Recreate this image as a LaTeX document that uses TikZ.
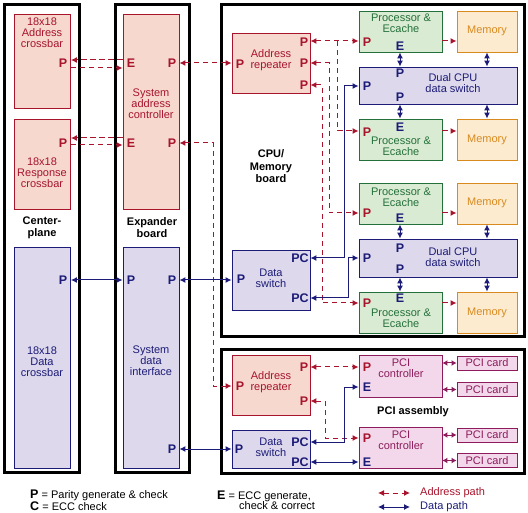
\documentclass[tikz,border=0pt]{standalone}
\usepackage{fontspec}
\setmainfont{Liberation Sans}
\usetikzlibrary{arrows.meta}
\definecolor{addrred}{HTML}{A8142C}
\definecolor{addrfill}{HTML}{F6D8CF}
\definecolor{datablue}{HTML}{1C1C78}
\definecolor{datafill}{HTML}{DDD8EB}
\definecolor{procgreen}{HTML}{24703A}
\definecolor{procfill}{HTML}{D9EBD2}
\definecolor{memorange}{HTML}{D98A1E}
\definecolor{memfill}{HTML}{FCEBCF}
\definecolor{pcimag}{HTML}{8C1C5C}
\definecolor{pcifill}{HTML}{F2D8EA}
\tikzset{
  board/.style={draw=black, line width=3pt, inner sep=0pt},
  addrbox/.style={draw=addrred, fill=addrfill, line width=0.9pt, inner sep=0pt},
  databox/.style={draw=datablue, fill=datafill, line width=0.9pt, inner sep=0pt},
  procbox/.style={draw=procgreen, fill=procfill, line width=0.9pt, inner sep=0pt, minimum width=83pt, minimum height=41pt},
  membox/.style={draw=memorange, fill=memfill, line width=0.9pt, inner sep=0pt, minimum width=60pt, minimum height=41pt},
  pcibox/.style={draw=pcimag, fill=pcifill, line width=0.9pt, inner sep=0pt},
  boxtext/.style={align=center, inner sep=0pt, font=\fontsize{11}{11}\selectfont},
  boardtext/.style={align=center, inner sep=0pt, font=\bfseries\fontsize{11}{12}\selectfont},
  port/.style={inner sep=0pt, font=\bfseries\fontsize{12.5}{12.5}\selectfont},
  addrline/.style={addrred, line width=1pt, dash pattern=on 5.5pt off 3.5pt, >={Latex[length=6pt,width=6pt]}},
  dataline/.style={datablue, line width=1pt, >={Latex[length=6pt,width=6pt]}},
  cardline/.style={pcimag, line width=1pt, >={Latex[length=5pt,width=6pt]}},
}
\begin{document}
\begin{tikzpicture}[x=1pt, y=-1pt]
\useasboundingbox (0,0) rectangle (528,513);

% boards
\node[board, minimum width=75pt, minimum height=467.5pt] (CP) at (42,238.75) {};
\node[board, minimum width=74pt, minimum height=467.5pt] (EX) at (152,238.75) {};
\node[board, minimum width=303pt, minimum height=332pt] (CPU) at (372.5,171) {};
\node[board, minimum width=303pt, minimum height=123pt] (PCI) at (372.5,411.5) {};

% centerplane and expander
\node[addrbox, minimum width=56.5pt, minimum height=94pt] (AXB) at (42.25,61) {};
\node[addrbox, minimum width=56.5pt, minimum height=90pt] (RXB) at (42.25,164) {};
\node[databox, minimum width=56.5pt, minimum height=221pt] (DXB) at (42.25,357.5) {};
\node[addrbox, minimum width=56pt, minimum height=195pt] (SAC) at (151,111.5) {};
\node[databox, minimum width=56pt, minimum height=221pt] (SDI) at (151,357.5) {};

% CPU/Memory board
\node[addrbox, minimum width=78pt, minimum height=60pt] (AR1) at (271,63) {};
\node[databox, minimum width=78pt, minimum height=60pt] (DS1) at (271,280) {};
\node[procbox] (PE1) at (400.5,31.5) {};
\node[membox] (M1) at (487,31.5) {};
\node[databox, minimum width=158pt, minimum height=37pt] (DC1) at (438,85.5) {};
\node[procbox] (PE2) at (400.5,139.5) {};
\node[membox] (M2) at (487,139.5) {};
\node[procbox] (PE3) at (400.5,203.5) {};
\node[membox] (M3) at (487,203.5) {};
\node[databox, minimum width=158pt, minimum height=38pt] (DC2) at (438,258) {};
\node[procbox] (PE4) at (400.5,312.5) {};
\node[membox] (M4) at (487,312.5) {};

% PCI assembly
\node[addrbox, minimum width=78pt, minimum height=60pt] (AR2) at (271,385) {};
\node[databox, minimum width=78pt, minimum height=38pt] (DS2) at (271,449) {};
\node[pcibox, minimum width=83pt, minimum height=42pt] (PC1) at (400.5,376) {};
\node[pcibox, minimum width=83pt, minimum height=41pt] (PC2) at (400.5,447.5) {};
\node[pcibox, minimum width=60pt, minimum height=14pt, boxtext, text=pcimag] (CD1) at (487,363) {PCI card};
\node[pcibox, minimum width=60pt, minimum height=14pt, boxtext, text=pcimag] (CD2) at (487,389.5) {PCI card};
\node[pcibox, minimum width=60pt, minimum height=14pt, boxtext, text=pcimag] (CD3) at (487,435) {PCI card};
\node[pcibox, minimum width=60pt, minimum height=14pt, boxtext, text=pcimag] (CD4) at (487,460.5) {PCI card};

% box texts
\node[boxtext, addrred] (tAXB) at (42,33) {18x18\\Address\\crossbar};
\node[boxtext, addrred] (tRXB) at (42,173) {18x18\\Response\\crossbar};
\node[boxtext, datablue] (tDXB) at (42,361.5) {18x18\\Data\\crossbar};
\node[boxtext, addrred] (tSAC) at (151,104) {System\\address\\controller};
\node[boxtext, datablue] (tSDI) at (151,361) {System\\data\\interface};
\node[boardtext] (tCP) at (42,227.5) {Center-\\plane};
\node[boardtext] (tEX) at (152,227.5) {Expander\\board};
\node[boardtext, font=\bfseries\fontsize{11}{12.5}\selectfont] (tCPU) at (271,166.5) {CPU/\\Memory\\board};
\node[boardtext] (tPCI) at (413,412) {PCI assembly};
\node[boxtext, addrred] (tAR1) at (271,60.5) {Address\\repeater};
\node[boxtext, datablue] (tDS1) at (271,278.5) {Data\\switch};
\node[boxtext, addrred] (tAR2) at (271,382.5) {Address\\repeater};
\node[boxtext, datablue] (tDS2) at (271,447.5) {Data\\switch};
\node[boxtext, procgreen] (tPE1) at (401,23.5) {Processor \&\\Ecache};
\node[boxtext, procgreen] (tPE2) at (401,146.5) {Processor \&\\Ecache};
\node[boxtext, procgreen] (tPE3) at (401,197) {Processor \&\\Ecache};
\node[boxtext, procgreen] (tPE4) at (401,318.5) {Processor \&\\Ecache};
\node[boxtext, memorange] (tM1) at (487,31) {Memory};
\node[boxtext, memorange] (tM2) at (487,140) {Memory};
\node[boxtext, memorange] (tM3) at (487,203) {Memory};
\node[boxtext, memorange] (tM4) at (487,313) {Memory};
\node[boxtext, datablue] (tDC1) at (453,83.5) {Dual CPU\\data switch};
\node[boxtext, datablue] (tDC2) at (453,257.5) {Dual CPU\\data switch};
\node[boxtext, pcimag] (tPC1) at (401,368.5) {PCI\\controller};
\node[boxtext, pcimag] (tPC2) at (401,440.5) {PCI\\controller};

% ports
\node[port, addrred] (AXBp) at (63,63) {P};
\node[port, addrred] (RXBp) at (63,143) {P};
\node[port, addrred] (SACe1) at (131,63) {E};
\node[port, addrred] (SACe2) at (131,143) {E};
\node[port, addrred] (SACp1) at (172,63) {P};
\node[port, addrred] (SACp2) at (172,143) {P};
\node[port, datablue] (DXBp) at (63,280) {P};
\node[port, datablue] (SDIp0) at (131,280) {P};
\node[port, datablue] (SDIp1) at (172,280) {P};
\node[port, datablue] (SDIp2) at (172,449) {P};
\node[port, addrred] (AR1p0) at (240,64) {P};
\node[port, addrred] (AR1p1) at (304,42) {P};
\node[port, addrred] (AR1p2) at (304,63) {P};
\node[port, addrred] (AR1p3) at (304,85) {P};
\node[port, datablue] (DS1p0) at (241,279) {P};
\node[port, datablue] (DS1c1) at (300,258) {PC};
\node[port, datablue] (DS1c2) at (300,298) {PC};
\node[port, addrred] (PE1p) at (367,42) {P};
\node[port, datablue] (PE1e) at (400,46) {E};
\node[port, datablue] (PE2e) at (400,127) {E};
\node[port, addrred] (PE2p) at (367,132) {P};
\node[port, addrred] (PE3p) at (367,213) {P};
\node[port, datablue] (PE3e) at (400,218) {E};
\node[port, datablue] (PE4e) at (400,298) {E};
\node[port, addrred] (PE4p) at (367,303) {P};
\node[port, datablue] (DC1t) at (400,73) {P};
\node[port, datablue] (DC1b) at (400,97) {P};
\node[port, datablue] (DC1l) at (367,86) {P};
\node[port, datablue] (DC2t) at (400,248) {P};
\node[port, datablue] (DC2b) at (400,269) {P};
\node[port, datablue] (DC2l) at (367,258) {P};
\node[port, addrred] (AR2p0) at (240,386) {P};
\node[port, addrred] (AR2p1) at (304,367) {P};
\node[port, addrred] (AR2p2) at (304,401) {P};
\node[port, datablue] (DS2p0) at (239,449) {P};
\node[port, datablue] (DS2c1) at (300,442) {PC};
\node[port, datablue] (DS2c2) at (300,462) {PC};
\node[port, addrred] (PC1p) at (367,367) {P};
\node[port, datablue] (PC1e) at (367,387) {E};
\node[port, addrred] (PC2p) at (367,438) {P};
\node[port, datablue] (PC2e) at (367,462) {E};

% address paths
\draw[addrline, ->] (SAC.west |- 0,60) -- (AXB.east |- 0,60);
\draw[addrline, ->] (AXB.east |- 0,68) -- (SAC.west |- 0,68);
\draw[addrline, ->] (SAC.west |- 0,138) -- (RXB.east |- 0,138);
\draw[addrline, ->] (RXB.east |- 0,145) -- (SAC.west |- 0,145);
\draw[addrline, <->] (SAC.east |- SACp1) -- (AR1.west |- SACp1);
\draw[addrline, <->] (SAC.east |- SACp2) -- (213,143) -- (213,386) -- (AR2.west |- AR2p0);
\draw[addrline, <->] (AR1.east |- 0,41) -- (PE1.west |- 0,41);
\draw[addrline, ->] (337,41) -- (337,131) -- (PE2.west |- 0,131);
\draw[addrline, <->] (AR1.east |- AR1p2) -- (329,63) -- (329,213) -- (PE3.west |- PE3p);
\draw[addrline, <->] (AR1.east |- AR1p3) -- (322,85) -- (322,303) -- (PE4.west |- PE4p);
\draw[addrline, <->] (AR2.east |- AR2p1) -- (PC1.west |- AR2p1);
\draw[addrline, <->] (AR2.east |- AR2p2) -- (325,401) -- (325,438) -- (PC2.west |- PC2p);
\draw[addrline, ->] (PE1.east |- 0,41) -- (M1.west |- 0,41);
\draw[addrline, ->] (PE2.east |- 0,131) -- (M2.west |- 0,131);
\draw[addrline, ->] (PE3.east |- PE3p) -- (M3.west |- PE3p);
\draw[addrline, ->] (PE4.east |- PE4p) -- (M4.west |- PE4p);

% data paths
\draw[dataline, <->] (DXB.east |- DXBp) -- (SDI.west |- DXBp);
\draw[dataline, <->] (SDI.east |- SDIp1) -- (DS1.west |- SDIp1);
\draw[dataline, <->] (SDI.east |- SDIp2) -- (DS2.west |- SDIp2);
\draw[dataline, <->] (DS1.east |- DS1c1) -- (344,258) -- (344,86) -- (DC1.west |- DC1l);
\draw[dataline, <->] (DS1.east |- DS1c2) -- (348,298) -- (348,258) -- (DC2.west |- DC2l);
\draw[dataline, <->] (DS2.east |- DS2c1) -- (344,442) -- (344,387) -- (PC1.west |- PC1e);
\draw[dataline, <->] (DS2.east |- DS2c2) -- (PC2.west |- PC2e);
\draw[dataline, <->] (PE1.south -| DC1t) -- (DC1.north -| DC1t);
\draw[dataline, <->] (M1.south) -- (M1.south |- DC1.north);
\draw[dataline, <->] (DC1.south -| DC1b) -- (PE2.north -| DC1b);
\draw[dataline, <->] (M2.north |- DC1.south) -- (M2.north);
\draw[dataline, <->] (PE3.south -| DC2t) -- (DC2.north -| DC2t);
\draw[dataline, <->] (M3.south) -- (M3.south |- DC2.north);
\draw[dataline, <->] (DC2.south -| DC2b) -- (PE4.north -| DC2b);
\draw[dataline, <->] (M4.north |- DC2.south) -- (M4.north);

% PCI cards
\draw[cardline, <->] (PC1.east |- CD1) -- (CD1.west);
\draw[cardline, <->] (PC1.east |- CD2) -- (CD2.west);
\draw[cardline, <->] (PC2.east |- CD3) -- (CD3.west);
\draw[cardline, <->] (PC2.east |- CD4) -- (CD4.west);

% legend
\node[anchor=base west, inner sep=0pt, font=\fontsize{11}{11}\selectfont] (legP) at (30,498) {{\bfseries\fontsize{12.5}{12.5}\selectfont P} = Parity generate \& check};
\node[anchor=base west, inner sep=0pt, font=\fontsize{11}{11}\selectfont] (legC) at (30,510) {{\bfseries\fontsize{12.5}{12.5}\selectfont C} = ECC check};
\node[anchor=base west, inner sep=0pt, font=\fontsize{11}{11}\selectfont] (legE) at (217,499) {{\bfseries\fontsize{12.5}{12.5}\selectfont E} = ECC generate,};
\node[anchor=base west, inner sep=0pt, font=\fontsize{11}{11}\selectfont] (legE2) at (239,509) {check \& correct};
\node[anchor=west, inner sep=0pt, font=\fontsize{11}{11}\selectfont, addrred] (legA) at (420,493) {Address path};
\node[anchor=west, inner sep=0pt, font=\fontsize{11}{11}\selectfont, datablue] (legD) at (420,507) {Data path};
\coordinate (legA0) at (378,493);
\coordinate (legD0) at (378,507);
\draw[addrline, <->] (legA0) -- ([xshift=-10pt]legA.west);
\draw[dataline, <->] (legD0) -- ([xshift=-10pt]legD.west);

\end{tikzpicture}
\end{document}
